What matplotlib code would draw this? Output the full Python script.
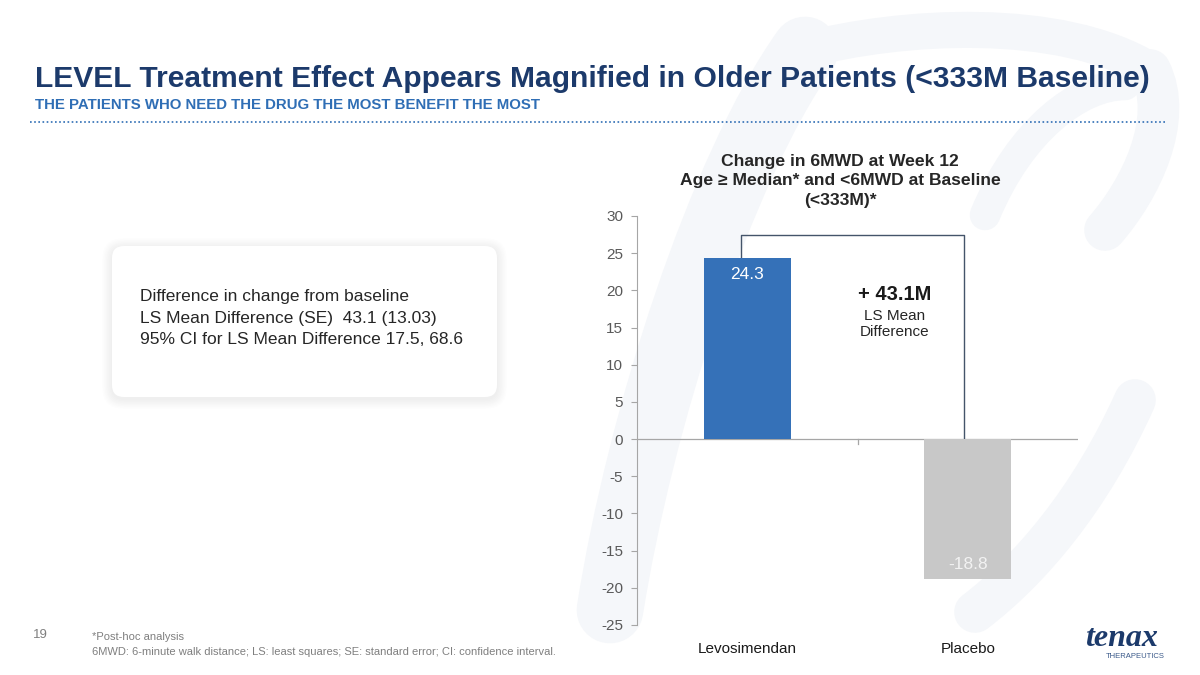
import numpy as np
import matplotlib
matplotlib.use("Agg")
import matplotlib.pyplot as plt
from matplotlib.patches import FancyBboxPatch, PathPatch
from matplotlib.path import Path

plt.rcParams['font.family'] = ['Liberation Sans', 'DejaVu Sans']

# data
categories = ["Levosimendan", "Placebo"]
values = [24.3, -18.8]
value_labels = ["24.3", "-18.8"]
y_ticks = [-25, -20, -15, -10, -5, 0, 5, 10, 15, 20, 25, 30]
diff_value = "+ 43.1M"
diff_caption = "LS Mean\nDifference"
box_lines = ["Difference in change from baseline",
             "LS Mean Difference (SE)  43.1 (13.03)",
             "95% CI for LS Mean Difference 17.5, 68.6"]

NAVY = "#1C3A6B"
BLUE = "#2F6EB5"
BAR_BLUE = "#3571B8"
BAR_GREY = "#C8C8C8"
WATER = "#F5F7FA"

fig = plt.figure(figsize=(12, 6.75), dpi=100)
fig.patch.set_facecolor("white")

# background layer in pixel coordinates
bg = fig.add_axes([0, 0, 1, 1])
bg.set_xlim(0, 1200)
bg.set_ylim(675, 0)
bg.axis('off')

# faint watermark strokes (company logo mark)
def stroke(pts, lw):
    codes = [Path.MOVETO] + [Path.CURVE4] * (len(pts) - 1)
    bg.add_patch(PathPatch(Path(pts, codes), facecolor='none', edgecolor=WATER,
                           lw=lw, capstyle='round', zorder=0))

stroke([(610, 610), (640, 420), (720, 170), (805, 50)], 48)
stroke([(805, 50), (900, 25), (1060, 15), (1150, 70)], 26)
stroke([(1150, 70), (1175, 120), (1140, 190), (1105, 230)], 30)
stroke([(985, 215), (1020, 130), (1080, 85), (1125, 85)], 22)
stroke([(1135, 400), (1090, 500), (1030, 570), (975, 612)], 30)

# title block
fig.text(35 / 1200, 1 - 79 / 675, "LEVEL Treatment Effect Appears Magnified in Older Patients (<333M Baseline)",
         fontsize=21.6, fontweight='bold', color=NAVY, va='center', ha='left')
fig.text(35 / 1200, 1 - 105 / 675, "THE PATIENTS WHO NEED THE DRUG THE MOST BENEFIT THE MOST",
         fontsize=10.8, fontweight='bold', color=BLUE, va='center', ha='left')
bg.plot([30, 1167], [122, 122], color=BLUE, lw=1.2, ls=(0, (1, 1.5)))

# summary box with soft shadow
for i in range(8):
    off = 2 + i * 2.5
    bg.add_patch(FancyBboxPatch((112 - off / 2, 246 - off / 2 + 2), 385 + off, 151 + off,
                                boxstyle="round,pad=0,rounding_size=%d" % (12 + off / 2),
                                facecolor='black', edgecolor='none', alpha=0.008, zorder=1))
bg.add_patch(FancyBboxPatch((112, 246), 385, 151, boxstyle="round,pad=0,rounding_size=12",
                            facecolor='white', edgecolor='none', zorder=2))
for k, line in enumerate(box_lines):
    bg.text(140, 297 + k * 21, line, fontsize=12.5, color="#262626",
            va='center', ha='left', zorder=3)

# chart
ax = fig.add_axes([637 / 1200, 1 - 625 / 675, 441 / 1200, 409 / 675])
ax.patch.set_alpha(0)
x = np.arange(len(categories))
bars = ax.bar(x, values, width=0.395, color=[BAR_BLUE, BAR_GREY], zorder=3)
ax.set_xlim(-0.5, 1.5)
ax.set_ylim(-25, 30)
ax.set_yticks(y_ticks)
ax.set_yticklabels([str(t) for t in y_ticks])
ax.set_xticks(x)
ax.set_xticklabels(categories)
ax.tick_params(axis='x', length=0, pad=12, labelsize=11, labelcolor='#1A1A1A')
ax.tick_params(axis='y', length=4, width=0.8, color='#A6A6A6', pad=6,
               labelsize=11, labelcolor='#595959')
for s in ['top', 'right', 'bottom']:
    ax.spines[s].set_visible(False)
ax.spines['left'].set_color('#A6A6A6')
ax.spines['left'].set_linewidth(0.8)
ax.axhline(0, color='#A6A6A6', lw=0.9, zorder=2)
ax.plot([0.5, 0.5], [0, -0.6], color='#A6A6A6', lw=0.9, zorder=2)

# value labels inside bars
ax.text(x[0], values[0] - 2.2, value_labels[0], ha='center', va='center',
        fontsize=12.5, color='white', zorder=4)
ax.text(x[1], values[1] + 1.9, value_labels[1], ha='center', va='center',
        fontsize=12.5, color='#F2F2F2', zorder=4)

# bracket showing the difference
top = 27.4
ax.plot([x[0] - 0.03, x[0] - 0.03, x[1] - 0.015, x[1] - 0.015],
        [values[0], top, top, 0], color='#44546A', lw=1.0, zorder=2)
ax.text(0.67, 19.5, diff_value, ha='center', va='center', fontsize=14.5,
        fontweight='bold', color='#1A1A1A')
ax.text(0.67, 15.5, diff_caption, ha='center', va='center', fontsize=11,
        color='#262626', linespacing=1.15)

fig.text(840 / 1200, 1 - 181 / 675,
         "Change in 6MWD at Week 12\nAge \u2265 Median* and <6MWD at Baseline\n(<333M)*",
         ha='center', va='center', fontsize=12.6, fontweight='bold', color='#262626',
         linespacing=1.4)

# footer
fig.text(33 / 1200, 1 - 635 / 675, "19", fontsize=9.5, color='#7F7F7F', va='center')
fig.text(92 / 1200, 1 - 637 / 675, "*Post-hoc analysis", fontsize=8, color='#7F7F7F', va='center')
fig.text(92 / 1200, 1 - 652 / 675,
         "6MWD: 6-minute walk distance; LS: least squares; SE: standard error; CI: confidence interval.",
         fontsize=8, color='#7F7F7F', va='center')

# logo
fig.text(1121 / 1200, 1 - 638 / 675, "tenax", fontsize=23, fontweight='bold', style='italic',
         family=['Liberation Serif', 'DejaVu Serif'], color=NAVY, ha='center', va='center')
fig.text(1135 / 1200, 1 - 657 / 675, "THERAPEUTICS", fontsize=5.5, color='#3B5A8A',
         ha='center', va='center')

fig.savefig("out.png", dpi=100, facecolor='white')
